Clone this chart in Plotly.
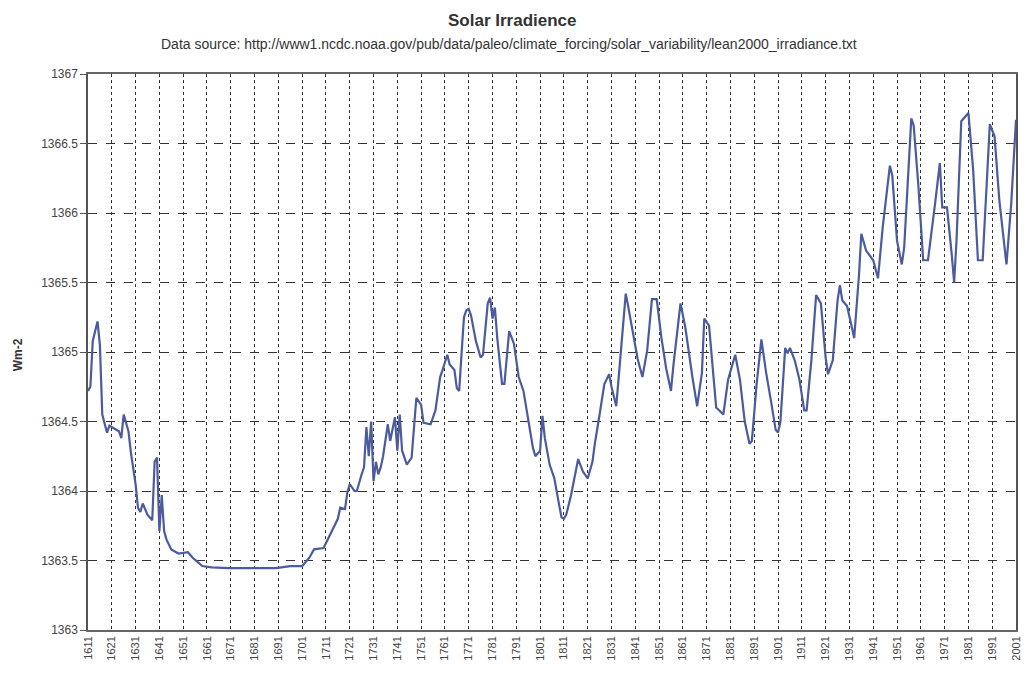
import plotly.graph_objects as go

# yearly irradiance (W m-2)
years = [1611, 1612, 1613, 1614, 1615, 1616, 1617, 1619, 1620, 1622, 1624, 1625, 1626, 1628, 1629,
         1631, 1632, 1633, 1634, 1636, 1638, 1639, 1640, 1641, 1642, 1643, 1644, 1646, 1649, 1653,
         1655, 1657, 1659, 1663, 1670, 1680, 1690, 1696, 1701, 1704, 1706, 1710, 1713, 1716, 1717,
         1719, 1720, 1721, 1723, 1724, 1726, 1727, 1728, 1729, 1730, 1731, 1732, 1733, 1734, 1735,
         1737, 1738, 1740, 1741, 1742, 1743, 1745, 1747, 1749, 1751, 1752, 1755, 1757, 1759, 1760,
         1762, 1763, 1765, 1766, 1767, 1768, 1769, 1770, 1771, 1772, 1774, 1776, 1777, 1779, 1780,
         1781, 1782, 1783, 1785, 1786, 1788, 1790, 1792, 1794, 1796, 1798, 1799, 1801, 1802, 1803,
         1805, 1807, 1809, 1810, 1811, 1812, 1814, 1817, 1819, 1821, 1823, 1824, 1826, 1828, 1830,
         1831, 1833, 1835, 1837, 1838, 1840, 1842, 1844, 1846, 1848, 1850, 1852, 1854, 1856, 1857,
         1860, 1862, 1865, 1867, 1869, 1870, 1872, 1875, 1878, 1880, 1883, 1885, 1887, 1889, 1890,
         1892, 1894, 1896, 1898, 1900, 1901, 1902, 1904, 1905, 1906, 1908, 1910, 1912, 1913, 1915,
         1917, 1919, 1921, 1922, 1924, 1926, 1927, 1928, 1930, 1933, 1935, 1936, 1938, 1941, 1943,
         1945, 1948, 1949, 1951, 1953, 1954, 1956, 1957, 1958, 1960, 1962, 1964, 1967, 1969, 1970,
         1972, 1974, 1975, 1976, 1978, 1981, 1983, 1985, 1987, 1990, 1992, 1994, 1997, 1999, 2001]

irradiance = [1364.72, 1364.75, 1365.08, 1365.15, 1365.22, 1365.05, 1364.55, 1364.42, 1364.47, 1364.45,
              1364.43, 1364.38, 1364.55, 1364.43, 1364.28, 1364.05, 1363.88, 1363.85, 1363.91, 1363.83,
              1363.79, 1364.21, 1364.24, 1363.71, 1363.97, 1363.71, 1363.65, 1363.58, 1363.55, 1363.56,
              1363.52, 1363.49, 1363.46, 1363.45, 1363.445, 1363.445, 1363.445, 1363.46, 1363.46, 1363.52,
              1363.58, 1363.59, 1363.69, 1363.80, 1363.88, 1363.87, 1363.99, 1364.05, 1364.00, 1364.00,
              1364.12, 1364.17, 1364.46, 1364.25, 1364.50, 1364.07, 1364.21, 1364.12, 1364.17, 1364.25,
              1364.48, 1364.36, 1364.53, 1364.29, 1364.55, 1364.29, 1364.19, 1364.24, 1364.67, 1364.62,
              1364.49, 1364.48, 1364.58, 1364.82, 1364.87, 1364.98, 1364.91, 1364.87, 1364.74, 1364.72,
              1364.99, 1365.25, 1365.30, 1365.31, 1365.26, 1365.08, 1364.96, 1364.98, 1365.35, 1365.39,
              1365.24, 1365.32, 1365.10, 1364.77, 1364.77, 1365.15, 1365.06, 1364.82, 1364.72, 1364.50,
              1364.31, 1364.25, 1364.29, 1364.54, 1364.38, 1364.19, 1364.09, 1363.90, 1363.81, 1363.80,
              1363.83, 1363.97, 1364.23, 1364.14, 1364.09, 1364.21, 1364.34, 1364.55, 1364.77, 1364.84,
              1364.75, 1364.61, 1365.00, 1365.42, 1365.33, 1365.15, 1364.95, 1364.82, 1365.01, 1365.38,
              1365.38, 1365.10, 1364.88, 1364.72, 1364.90, 1365.35, 1365.18, 1364.82, 1364.61, 1364.85,
              1365.24, 1365.19, 1364.60, 1364.55, 1364.80, 1364.98, 1364.80, 1364.50, 1364.34, 1364.36,
              1364.77, 1365.09, 1364.85, 1364.65, 1364.44, 1364.42, 1364.50, 1365.03, 1364.99, 1365.03,
              1364.94, 1364.80, 1364.58, 1364.58, 1364.94, 1365.41, 1365.35, 1364.96, 1364.84, 1364.94,
              1365.37, 1365.48, 1365.37, 1365.33, 1365.10, 1365.55, 1365.85, 1365.73, 1365.66, 1365.53,
              1365.90, 1366.34, 1366.27, 1365.80, 1365.63, 1365.75, 1366.40, 1366.68, 1366.63, 1366.19,
              1365.66, 1365.66, 1366.07, 1366.36, 1366.04, 1366.04, 1365.70, 1365.50, 1365.80, 1366.66,
              1366.72, 1366.31, 1365.66, 1365.66, 1366.64, 1366.55, 1366.09, 1365.63, 1366.07, 1366.67]

x_ticks = list(range(1611, 2002, 10))
y_ticks = [1363, 1363.5, 1364, 1364.5, 1365, 1365.5, 1366, 1366.5, 1367]
y_labels = ["1363", "1363.5", "1364", "1364.5", "1365", "1365.5", "1366", "1366.5", "1367"]

FONT = "Liberation Sans, Arial, sans-serif"

fig = go.Figure()
fig.add_trace(go.Scatter(x=years, y=irradiance, mode="lines",
                         line=dict(color="#4b5b9e", width=2.2), showlegend=False))

fig.update_xaxes(range=[1611, 2001], tickvals=x_ticks, ticktext=[str(t) for t in x_ticks],
                 tickangle=-90, tickfont=dict(size=11, color="#444"),
                 showgrid=True, gridcolor="#333", gridwidth=1, griddash="dot",
                 showline=True, linecolor="#666", linewidth=1.5, mirror=True,
                 zeroline=False, ticks="")
fig.update_yaxes(range=[1363, 1367], tickvals=y_ticks, ticktext=y_labels,
                 tickfont=dict(size=12, color="#444"),
                 showgrid=True, gridcolor="#333", gridwidth=1, griddash="dash",
                 showline=True, linecolor="#555", linewidth=1.5, mirror=True,
                 ticks="outside", ticklen=6, tickcolor="#555", zeroline=False)

fig.add_annotation(text="<b>Solar Irradience</b>", xref="paper", yref="paper",
                   x=0.457, y=1.097, xanchor="center", yanchor="middle", showarrow=False,
                   font=dict(size=17, color="#333", family=FONT))
fig.add_annotation(text="Data source: http://www1.ncdc.noaa.gov/pub/data/paleo/climate_forcing/solar_variability/lean2000_irradiance.txt",
                   xref="paper", yref="paper", x=0.454, y=1.054, xanchor="center", yanchor="middle",
                   showarrow=False, font=dict(size=14, color="#333", family=FONT))
fig.add_annotation(text="<b>Wm-2</b>", xref="paper", yref="paper", x=-0.076, y=0.495,
                   xanchor="center", yanchor="middle", textangle=-90, showarrow=False,
                   font=dict(size=12, color="#333", family=FONT))

fig.update_layout(width=1029, height=677, margin=dict(l=88, r=7, t=74, b=47),
                  plot_bgcolor="white", paper_bgcolor="white",
                  font=dict(family=FONT, color="#333"))

# drop the default 8px body margin so the figure fills the window exactly
fig.write_html("out.html", config={"displayModeBar": False},
               post_script="document.body.style.margin='0';document.body.style.overflow='hidden';")
